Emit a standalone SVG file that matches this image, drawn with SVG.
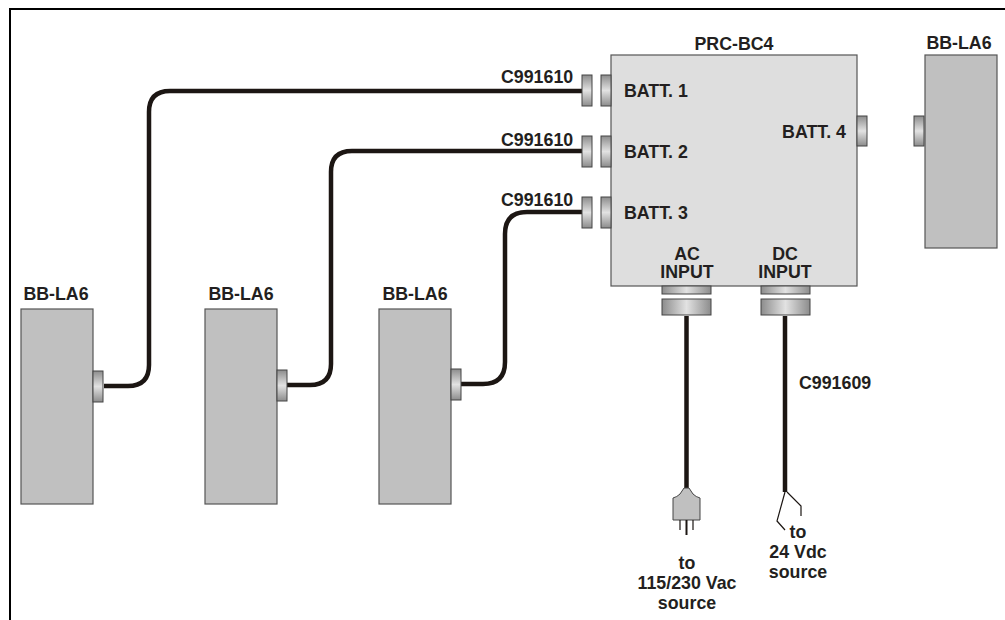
<svg xmlns="http://www.w3.org/2000/svg" width="1005" height="620" viewBox="0 0 1005 620">
<defs>
<linearGradient id="gv" x1="0" y1="0" x2="0" y2="1"><stop offset="0" stop-color="#8c8c8c"/><stop offset=".5" stop-color="#e2e2e2"/><stop offset="1" stop-color="#8c8c8c"/></linearGradient>
<linearGradient id="gh" x1="0" y1="0" x2="1" y2="0"><stop offset="0" stop-color="#8c8c8c"/><stop offset=".5" stop-color="#e2e2e2"/><stop offset="1" stop-color="#8c8c8c"/></linearGradient>
</defs>
<style>
text{font-family:"Liberation Sans",Arial,sans-serif;font-weight:bold;font-size:17.8px;fill:#231f20}
.m{text-anchor:middle}
.e{text-anchor:end}
.batt{fill:#c0c0c0;stroke:#555;stroke-width:1.2}
.box{fill:#dedede;stroke:#555;stroke-width:1.2}
.side{fill:url(#gv);stroke:#444;stroke-width:1}
.bot{fill:url(#gh);stroke:#444;stroke-width:1}
.cable{fill:none;stroke:#1c1613;stroke-width:4.500}
.wire{fill:none;stroke:#1c1613;stroke-width:1.200}
</style>
<path d="M10 620V9H1005" fill="none" stroke="#000" stroke-width="2"/>
<g id="connectors">
<path class="cable" d="M104 386H128Q149 386 149 365V112Q149 91 170 91H583"/>
<path class="cable" d="M287 385H310Q331 385 331 364V172Q331 151 352 151H583"/>
<path class="cable" d="M461 384H483Q505 384 505 362V234Q505 212 527 212H583"/>
<path class="cable" d="M686.500 316V488"/>
<path class="cable" d="M785 316V492"/>
</g>
<g id="prc-bc4">
<rect class="box" x="611" y="55" width="246" height="231"/>
<text class="m" x="734" y="50">PRC-BC4</text>
<text x="624" y="97">BATT. 1</text>
<text x="624" y="158">BATT. 2</text>
<text x="624" y="219">BATT. 3</text>
<text class="e" x="846" y="138">BATT. 4</text>
<text class="m" x="687" y="260">AC</text>
<text class="m" x="687" y="278">INPUT</text>
<text class="m" x="785" y="260">DC</text>
<text class="m" x="785" y="278">INPUT</text>
<rect class="side" x="601" y="75" width="10" height="31"/>
<rect class="side" x="601" y="136" width="10" height="31"/>
<rect class="side" x="601" y="197" width="10" height="31"/>
<rect class="side" x="857" y="116" width="10" height="30"/>
<rect class="bot" x="662" y="286" width="49" height="8"/>
<rect class="bot" x="761" y="286" width="49" height="8"/>
</g>
<g id="plug-batt1"><rect class="side" x="582" y="75" width="10" height="31"/></g>
<g id="plug-batt2"><rect class="side" x="582" y="136" width="10" height="31"/></g>
<g id="plug-batt3"><rect class="side" x="582" y="197" width="10" height="31"/></g>
<g id="plug-ac"><rect class="bot" x="662" y="299" width="49" height="16"/></g>
<g id="plug-dc"><rect class="bot" x="761" y="299" width="49" height="16"/></g>
<g id="battery-1">
<rect class="batt" x="21" y="309" width="72" height="195"/>
<rect class="side" x="93" y="371" width="10" height="31"/>
<text class="m" x="56" y="300">BB-LA6</text>
</g>
<g id="battery-2">
<rect class="batt" x="205" y="309" width="72" height="195"/>
<rect class="side" x="277" y="370" width="10" height="31"/>
<text class="m" x="241" y="300">BB-LA6</text>
</g>
<g id="battery-3">
<rect class="batt" x="379" y="309" width="72" height="195"/>
<rect class="side" x="451" y="369" width="10" height="31"/>
<text class="m" x="415" y="300">BB-LA6</text>
</g>
<g id="battery-4">
<rect class="batt" x="925" y="55" width="72" height="193"/>
<rect class="side" x="914" y="116" width="10" height="30"/>
<text class="m" x="959" y="49">BB-LA6</text>
</g>
<g id="ac-plug">
<path d="M684 488H689L693 494Q696 497 700 498V520H673V498Q677 497 680 494Z" fill="#c0c0c0" stroke="#444" stroke-width="1"/>
<path class="wire" d="M680 520V530M693 520V530"/>
<path d="M686.500 520V535" fill="none" stroke="#1c1613" stroke-width="2"/>
<text class="m" x="687" y="569">to</text>
<text class="m" x="687" y="589">115/230 Vac</text>
<text class="m" x="687" y="609">source</text>
</g>
<g id="dc-wires">
<path class="wire" d="M785 492L777 521L785 530M787 492L801 506V516"/>
<text class="m" x="798" y="538">to</text>
<text class="m" x="798" y="558">24 Vdc</text>
<text class="m" x="798" y="578">source</text>
</g>
<g id="cable-labels">
<text x="501" y="83">C991610</text>
<text x="501" y="146">C991610</text>
<text x="501" y="206">C991610</text>
<text x="799" y="389">C991609</text>
</g>
</svg>
